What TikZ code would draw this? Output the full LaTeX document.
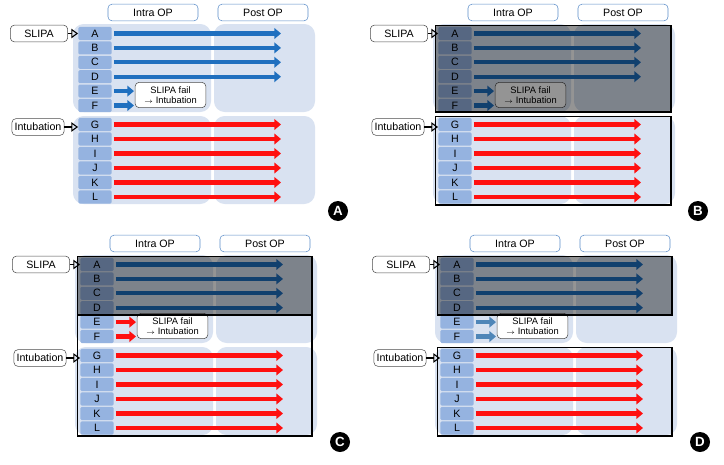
\documentclass[tikz,border=0pt]{standalone}
\usepackage{fontspec}
\setmainfont{Liberation Sans}
\usetikzlibrary{arrows.meta}
\definecolor{colbg}{HTML}{D9E2F1}
\definecolor{hdr}{HTML}{5B8DC9}
\definecolor{letbox}{HTML}{95B3E0}
\definecolor{blu}{HTML}{1F6FBF}
\definecolor{steel}{HTML}{4F86B8}
\definecolor{rd}{HTML}{FF1010}
\tikzset{
  colbox/.style={fill=colbg, draw=none, rounded corners=8},
  header/.style={draw=hdr, rounded corners=3, fill=white, minimum width=67.5pt, minimum height=12.5pt, inner sep=0pt},
  tag/.style={draw=black!70, rounded corners=3, fill=white, minimum height=12.5pt, inner sep=2pt},
  letter/.style={fill=letbox, rounded corners=1, minimum width=25pt, minimum height=9.8pt, inner sep=0pt},
  flow/.style={line width=3.2pt, -{Triangle[length=5pt,width=8pt]}},
  hollow/.style={thick, -{Triangle[open,length=5pt,width=7pt]}},
  failbox/.style={draw=black!70, rounded corners=3, fill=white, align=center, minimum width=53pt, minimum height=19pt, inner sep=1pt, font=\fontsize{7}{7.5}\selectfont},
  darken/.style={fill=black, fill opacity=0.42, draw=black, draw opacity=1, line width=1.1pt},
  frame/.style={draw=black, line width=1.1pt},
  badge/.style={circle, fill=black, text=white, inner sep=0pt, minimum size=15pt, font=\bfseries\fontsize{10}{10}\selectfont}
}
% one panel: name prefix, shift x, shift y, badge letter, colour of E/F arrows
\newcommand\drawpanel[5]{
\begin{scope}[shift={(#2,#3)}]
\fill[colbox] (73,24) rectangle (211,112);
\fill[colbox] (214,24) rectangle (315,112);
\fill[colbox] (73,116) rectangle (211,204);
\fill[colbox] (214,116) rectangle (315,204);
\node[header] (#1intra) at (153,12.5) {Intra OP};
\node[header] (#1post) at (263,12.5) {Post OP};
\coordinate (#1end) at (281,0);
\coordinate (#1short) at (134,0);
\foreach \l [count=\i] in {A,B,C,D,E,F}
  \node[letter] (#1\l) at (95,{33.5+(\i-1)*14.4}) {\l};
\foreach \l [count=\i] in {G,H,I,J,K,L}
  \node[letter] (#1\l) at (95,{124.5+(\i-1)*14.5}) {\l};
\foreach \l in {A,B,C,D}
  \draw[flow, blu] ([xshift=1.5pt]#1\l.east) -- (#1\l.east -| #1end);
\foreach \l in {E,F}
  \draw[flow, #5] ([xshift=1.5pt]#1\l.east) -- (#1\l.east -| #1short);
\foreach \l in {G,H,I,J,K,L}
  \draw[flow, rd] ([xshift=1.5pt]#1\l.east) -- (#1\l.east -| #1end);
\node[failbox] (#1fail) at (170.5,95) {SLIPA fail\\$\scriptstyle\rightarrow$ Intubation};
\node[tag, minimum width=43pt] (#1slipa) at (39,33.5) {SLIPA};
\node[tag] (#1intub) at (38,127) {Intubation};
\draw[hollow] (#1slipa.east) -- (#1A.west);
\draw[hollow] (#1intub.east) -- (#1intub.east -| #1G.west);
\node[badge] (#1badge) at (338,211) {#4};
\end{scope}}
\begin{document}
\begin{tikzpicture}[x=0.75pt, y=-0.75pt, font=\fontsize{8}{8.5}\selectfont]
\useasboundingbox (0,0) rectangle (724,464);
% A
\drawpanel{a}{0}{0}{A}{blu}
% B
\drawpanel{b}{360}{0}{B}{blu}
\draw[darken] ([xshift=-2pt,yshift=1pt]bA.north west) rectangle (671,112);
\draw[frame] ([xshift=-2pt,yshift=1pt]bG.north west) rectangle (671,205);
% C
\drawpanel{c}{2}{231}{C}{rd}
\draw[darken] ([xshift=-2pt,yshift=1pt]cA.north west) rectangle (312,315);
\draw[frame] (cA.west |- 0,315) ++(-2pt,0) rectangle (312,436);
% D
\drawpanel{d}{362}{231}{D}{steel}
\draw[darken] ([xshift=-2pt,yshift=1pt]dA.north west) rectangle (672,315);
\draw[frame] ([xshift=-2pt,yshift=1pt]dG.north west) rectangle (672,436);
\end{tikzpicture}
\end{document}
